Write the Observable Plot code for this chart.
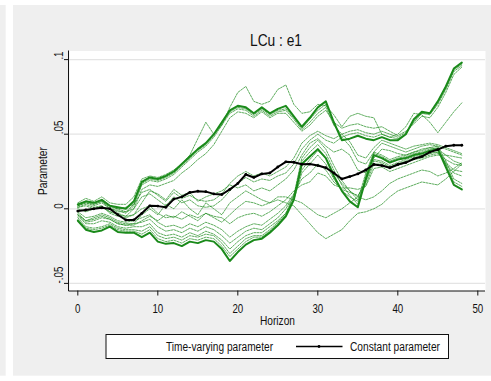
<!DOCTYPE html>
<html><head><meta charset="utf-8">
<script src="https://cdn.jsdelivr.net/npm/d3@7"></script>
<script src="https://cdn.jsdelivr.net/npm/@observablehq/plot@0.6"></script>
<style>
html,body{margin:0;padding:0;background:#fff;}
svg{display:block}
</style></head><body><div id="chart"></div>
<script>
const horizon = [0,1,2,3,4,5,6,7,8,9,10,11,12,13,14,15,16,17,18,19,20,21,22,23,24,25,26,27,28,29,30,31,32,33,34,35,36,37,38,39,40,41,42,43,44,45,46,47,48];

const constantParam = [-0.0015,-0.0008,0.0,0.0007,0.0,-0.004,-0.0075,-0.0075,-0.003,0.002,0.0018,0.001,0.0065,0.008,0.011,0.0118,0.0115,0.010,0.0096,0.013,0.017,0.023,0.021,0.0234,0.024,0.028,0.0315,0.0312,0.0298,0.030,0.029,0.0275,0.024,0.020,0.0216,0.0234,0.026,0.0297,0.029,0.0275,0.0297,0.031,0.0335,0.035,0.038,0.0397,0.042,0.0426,0.0426];

// time-varying responses (one array per drawn line)
const tvpUpperMain = [0.003,0.005,0.004,0.006,0.002,0.001,0.0,0.005,0.018,0.021,0.020,0.022,0.025,0.030,0.035,0.040,0.044,0.050,0.058,0.066,0.069,0.068,0.064,0.068,0.064,0.067,0.069,0.062,0.055,0.061,0.068,0.072,0.058,0.046,0.047,0.049,0.047,0.046,0.048,0.046,0.046,0.050,0.060,0.065,0.064,0.072,0.082,0.094,0.098];
const tvpUpperMid = [0.002,0.005,0.003,0.005,0.001,0.000,-0.002,0.003,0.017,0.020,0.019,0.021,0.024,0.029,0.034,0.039,0.043,0.049,0.057,0.065,0.068,0.067,0.063,0.067,0.063,0.066,0.067,0.061,0.054,0.060,0.066,0.070,0.057,0.048,0.050,0.051,0.049,0.048,0.050,0.048,0.047,0.050,0.059,0.064,0.064,0.071,0.081,0.093,0.097];
const tvpUpperLow = [0.002,0.004,0.002,0.004,0.000,-0.001,-0.003,0.002,0.016,0.019,0.018,0.020,0.023,0.028,0.033,0.038,0.042,0.048,0.056,0.064,0.067,0.066,0.062,0.066,0.062,0.065,0.066,0.060,0.053,0.058,0.064,0.068,0.056,0.050,0.052,0.053,0.051,0.050,0.052,0.050,0.048,0.051,0.058,0.064,0.063,0.070,0.080,0.092,0.096];
const tvpUpperSpread = [0.001,0.003,0.001,0.002,-0.002,-0.003,-0.005,0.000,0.013,0.016,0.015,0.017,0.019,0.024,0.028,0.033,0.037,0.043,0.052,0.061,0.065,0.064,0.061,0.065,0.061,0.064,0.064,0.058,0.052,0.056,0.062,0.066,0.058,0.054,0.056,0.057,0.055,0.054,0.055,0.052,0.049,0.052,0.057,0.062,0.061,0.068,0.078,0.090,0.095];
const tvpUpperHigh = [0.004,0.007,0.005,0.008,0.004,0.003,0.003,0.008,0.020,0.022,0.021,0.023,0.026,0.030,0.036,0.047,0.058,0.050,0.056,0.068,0.078,0.082,0.072,0.070,0.072,0.080,0.083,0.070,0.064,0.065,0.070,0.069,0.063,0.055,0.062,0.064,0.062,0.061,0.050,0.048,0.050,0.055,0.064,0.063,0.058,0.051,0.058,0.065,0.071];
const tvpLowerBottom = [-0.008,-0.014,-0.0155,-0.0145,-0.012,-0.0155,-0.016,-0.016,-0.019,-0.016,-0.022,-0.0235,-0.023,-0.025,-0.022,-0.023,-0.021,-0.022,-0.027,-0.035,-0.029,-0.024,-0.021,-0.020,-0.016,-0.011,-0.005,0.006,0.030,0.035,0.040,0.034,0.022,0.012,0.005,0.001,0.020,0.036,0.034,0.031,0.033,0.034,0.036,0.037,0.039,0.040,0.028,0.016,0.013];
const tvpLowerB2 = [-0.007,-0.013,-0.014,-0.013,-0.011,-0.014,-0.015,-0.015,-0.017,-0.014,-0.020,-0.022,-0.021,-0.023,-0.020,-0.021,-0.019,-0.020,-0.025,-0.032,-0.027,-0.022,-0.019,-0.019,-0.015,-0.010,-0.004,0.008,0.032,0.038,0.043,0.037,0.026,0.016,0.009,0.003,0.022,0.037,0.035,0.032,0.034,0.035,0.037,0.038,0.040,0.041,0.030,0.018,0.015];
const tvpLowerB3 = [-0.006,-0.012,-0.013,-0.012,-0.010,-0.013,-0.014,-0.014,-0.015,-0.012,-0.018,-0.020,-0.019,-0.021,-0.018,-0.019,-0.017,-0.018,-0.023,-0.030,-0.025,-0.020,-0.018,-0.018,-0.014,-0.009,-0.003,0.009,0.034,0.041,0.046,0.040,0.029,0.019,0.012,0.006,0.024,0.038,0.036,0.033,0.035,0.036,0.038,0.039,0.041,0.042,0.032,0.020,0.017];
const tvpLowerMid1 = [-0.005,-0.010,-0.010,-0.008,-0.009,-0.012,-0.013,-0.012,-0.012,-0.010,-0.016,-0.018,-0.017,-0.019,-0.016,-0.018,-0.015,-0.017,-0.021,-0.027,-0.022,-0.018,-0.016,-0.016,-0.012,-0.008,-0.003,0.006,0.024,0.030,0.036,0.030,0.020,0.012,0.008,0.005,0.018,0.033,0.032,0.029,0.031,0.033,0.035,0.036,0.038,0.038,0.030,0.024,0.022];
const tvpLowerMid4 = [-0.004,-0.008,-0.007,-0.005,-0.007,-0.010,-0.011,-0.010,-0.009,-0.007,-0.012,-0.015,-0.014,-0.016,-0.013,-0.015,-0.012,-0.014,-0.018,-0.023,-0.019,-0.015,-0.013,-0.014,-0.010,-0.006,0.000,0.009,0.026,0.033,0.039,0.034,0.024,0.017,0.012,0.008,0.019,0.032,0.031,0.028,0.030,0.032,0.034,0.035,0.037,0.038,0.031,0.026,0.025];
const tvpLowerMid2 = [-0.002,-0.006,-0.005,-0.003,-0.005,-0.008,-0.009,-0.008,-0.006,-0.004,-0.009,-0.012,-0.011,-0.013,-0.010,-0.012,-0.009,-0.011,-0.014,-0.019,-0.015,-0.012,-0.010,-0.011,-0.007,-0.003,0.002,0.010,0.020,0.024,0.030,0.026,0.018,0.013,0.011,0.009,0.016,0.030,0.030,0.027,0.029,0.031,0.033,0.034,0.036,0.037,0.033,0.030,0.029];
const tvpLowerMid3 = [0.000,-0.002,0.000,0.001,-0.002,-0.004,-0.005,-0.004,0.000,0.002,-0.003,-0.006,-0.005,-0.007,-0.004,-0.006,-0.003,-0.005,-0.006,-0.010,-0.006,-0.004,-0.003,-0.005,-0.002,0.002,0.006,0.012,0.016,0.018,0.024,0.022,0.016,0.014,0.014,0.013,0.015,0.027,0.028,0.025,0.027,0.029,0.031,0.033,0.035,0.036,0.036,0.035,0.034];
const tvpLowerTop = [0.002,0.004,0.003,0.005,0.000,-0.002,-0.002,0.000,0.008,0.010,0.006,0.002,0.008,0.004,0.006,0.002,0.001,0.002,0.006,0.012,0.017,0.021,0.018,0.020,0.019,0.022,0.024,0.030,0.040,0.046,0.050,0.046,0.044,0.048,0.042,0.032,0.030,0.038,0.044,0.042,0.040,0.038,0.040,0.042,0.043,0.042,0.040,0.038,0.036];
const tvpLowerTop2 = [0.001,0.002,0.000,0.002,-0.003,-0.005,-0.006,-0.004,0.004,0.012,0.010,0.006,0.013,0.009,0.011,0.005,0.008,0.010,0.012,0.016,0.014,0.016,0.012,0.014,0.012,0.016,0.020,0.026,0.036,0.044,0.047,0.042,0.038,0.040,0.036,0.026,0.024,0.034,0.040,0.039,0.037,0.036,0.038,0.040,0.041,0.040,0.036,0.032,0.030];
const tvpLowerHigh = [0.003,0.005,0.004,0.006,0.002,0.000,0.001,0.003,0.011,0.013,0.009,0.005,0.011,0.007,0.009,0.006,0.005,0.006,0.010,0.017,0.022,0.025,0.022,0.024,0.022,0.025,0.028,0.034,0.044,0.049,0.052,0.049,0.047,0.050,0.045,0.036,0.034,0.041,0.046,0.044,0.042,0.040,0.042,0.043,0.044,0.043,0.041,0.039,0.037];
const tvpLowerThin = [-0.003,-0.008,-0.006,-0.004,-0.006,-0.009,-0.010,-0.010,-0.004,0.000,-0.004,0.003,0.000,0.006,0.000,-0.004,0.004,0.000,-0.004,0.004,0.008,0.012,0.009,0.006,0.004,0.006,0.004,0.002,-0.004,-0.010,-0.016,-0.020,-0.017,-0.014,-0.008,-0.003,-0.002,0.000,0.003,0.008,0.012,0.014,0.016,0.018,0.017,0.016,0.020,0.025,0.030];
const tvpLowerThin2 = [-0.004,-0.009,-0.008,-0.006,-0.007,-0.010,-0.011,-0.011,-0.008,-0.005,-0.008,-0.004,-0.006,-0.002,-0.005,-0.008,-0.003,-0.006,-0.009,-0.004,0.001,0.005,0.004,0.002,0.004,0.008,0.008,0.006,0.004,0.000,-0.004,-0.006,-0.003,0.000,0.004,0.008,0.006,0.008,0.012,0.017,0.020,0.022,0.024,0.026,0.025,0.022,0.024,0.027,0.031];

const yTicks = [-0.05, 0, 0.05, 0.1];
const yTickLabels = ["-.05", "0", ".05", ".1"];
const xTicks = [0, 10, 20, 30, 40, 50];
const titleText = "LCu : e1";
const xLabel = "Horizon";
const yLabel = "Parameter";
const legendLabels = ["Time-varying parameter", "Constant parameter"];

const thinSeries = [
  ["upperMid", tvpUpperMid], ["upperLow", tvpUpperLow], ["upperSpread", tvpUpperSpread], ["upperHigh", tvpUpperHigh],
  ["lowerB2", tvpLowerB2], ["lowerB3", tvpLowerB3], ["lowerMid1", tvpLowerMid1], ["lowerMid4", tvpLowerMid4],
  ["lowerMid2", tvpLowerMid2], ["lowerMid3", tvpLowerMid3], ["lowerTop", tvpLowerTop], ["lowerTop2", tvpLowerTop2],
  ["lowerHigh", tvpLowerHigh], ["lowerThin", tvpLowerThin], ["lowerThin2", tvpLowerThin2]
];
const thickSeries = [["upperMain", tvpUpperMain], ["lowerBottom", tvpLowerBottom]];
const toRows = list => list.flatMap(([name, vals]) => vals.map((v, i) => ({h: horizon[i], v, s: name})));
const thinRows = toRows(thinSeries);
const thickRows = toRows(thickSeries);
const constRows = constantParam.map((v, i) => ({h: horizon[i], v}));

const FONT = "'Liberation Sans','Arial',sans-serif";
const GREEN = "#1a8a1a";
const INK = "#111";

const chart = Plot.plot({
  width: 491, height: 381,
  marginLeft: 69, marginRight: 6, marginTop: 50.5, marginBottom: 90.5,
  style: {fontFamily: FONT, fontSize: "12.5px", background: "transparent", color: INK},
  x: {domain: [-1.04, 50.96]},
  y: {domain: [-0.05509, 0.10576]},
  marks: [
    Plot.frame({fill: "white", stroke: null}),
    Plot.gridY(yTicks, {stroke: "#e4e4e4", strokeOpacity: 1, strokeWidth: 1.3}),
    Plot.line(thinRows, {x: "h", y: "v", z: "s", stroke: GREEN, strokeWidth: 0.7, strokeDasharray: "2,1.2"}),
    Plot.line(thickRows, {x: "h", y: "v", z: "s", stroke: GREEN, strokeWidth: 2}),
    Plot.line(constRows, {x: "h", y: "v", stroke: "black", strokeWidth: 2}),
    Plot.dot(constRows, {x: "h", y: "v", r: 1.4, fill: "black"}),
    Plot.axisX({ticks: xTicks, tickSize: 5, tickPadding: 8, label: null, tickFormat: d => String(d)}),
    Plot.axisY({ticks: yTicks, tickSize: 5, fill: "none", label: null}),
    Plot.text(yTicks, {y: d => d, text: (d, i) => yTickLabels[i], frameAnchor: "left", dx: -10.5, rotate: -90, fontSize: 12.5})
  ]
});

const svg = d3.select(chart);
const xs = chart.scale("x"), ys = chart.scale("y");
const [x0, x1] = xs.range, [yb, yt] = ys.range;

// condense tick labels horizontally (narrow Helvetica look)
svg.selectAll("text").each(function() {
  const t = d3.select(this);
  const tr = t.attr("transform");
  if (tr) t.attr("transform", tr + " scale(0.78,1)");
});

// background panels
const bg = svg.insert("g", ":first-child");
bg.append("rect").attr("x", 0).attr("y", 0).attr("width", 491).attr("height", 381).attr("fill", "#ffffff");
bg.append("rect").attr("x", 0).attr("y", 5).attr("width", 5.7).attr("height", 370.7).attr("fill", "#efefef");
bg.append("rect").attr("x", 13).attr("y", 5).attr("width", 478).attr("height", 370.7).attr("fill", "#efefef");

// axis lines
svg.append("line").attr("x1", x0 - 0.5).attr("x2", x0 - 0.5).attr("y1", yt).attr("y2", yb + 0.5).attr("stroke", INK).attr("stroke-width", 1);
svg.append("line").attr("x1", x0 - 0.5).attr("x2", x1).attr("y1", yb + 0.5).attr("y2", yb + 0.5).attr("stroke", INK).attr("stroke-width", 1);

function label(sel, txt, len) {
  return sel.attr("font-family", FONT).attr("fill", INK).attr("text-anchor", "start")
    .attr("textLength", len).attr("lengthAdjust", "spacingAndGlyphs").text(txt);
}
// title & axis titles
label(svg.append("text").attr("x", 250).attr("y", 46).attr("font-size", 16.5), titleText, 52);
label(svg.append("text").attr("x", 260).attr("y", 325).attr("font-size", 12.5), xLabel, 35);
label(svg.append("text").attr("transform", `translate(46.5,195) rotate(-90)`).attr("font-size", 12.5), yLabel, 48);

// legend
const lg = svg.append("g");
lg.append("rect").attr("x", 106).attr("y", 334.5).attr("width", 342.5).attr("height", 24).attr("fill", "white").attr("stroke", INK).attr("stroke-width", 1);
label(lg.append("text").attr("x", 166).attr("y", 351).attr("font-size", 12.5), legendLabels[0], 107);
lg.append("line").attr("x1", 296).attr("x2", 342.5).attr("y1", 346.5).attr("y2", 346.5).attr("stroke", "black").attr("stroke-width", 1.6);
lg.append("circle").attr("cx", 319).attr("cy", 346.5).attr("r", 1.4).attr("fill", "black");
label(lg.append("text").attr("x", 350).attr("y", 351).attr("font-size", 12.5), legendLabels[1], 90);

document.getElementById("chart").appendChild(chart);
</script></body></html>
